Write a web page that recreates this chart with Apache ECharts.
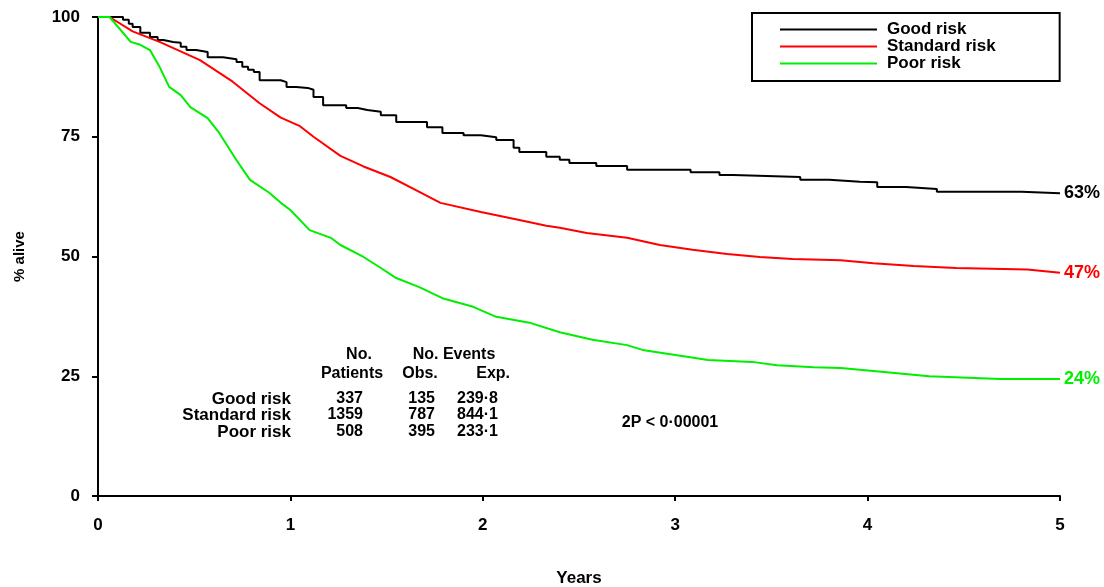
<!DOCTYPE html>
<html><head><meta charset="utf-8">
<script src="https://cdn.jsdelivr.net/npm/echarts@6/dist/echarts.min.js"></script>
<style>html,body{margin:0;padding:0;background:#fff}#c{width:1104px;height:587px}</style>
</head><body><div id="c"></div>
<script>
// ---------- data ----------
const seriesNames = ['Good risk', 'Standard risk', 'Poor risk'];
const seriesColors = ['#000000', '#ff0000', '#00ee00'];

const goodRisk = [
  [0,100],[0.10,100],[0.13,99.4],[0.16,98.6],[0.18,97.9],[0.22,96.7],[0.27,95.8],[0.31,95.2],[0.34,94.8],[0.39,94.6],
  [0.43,93.8],[0.46,93.1],[0.51,92.7],[0.57,91.6],[0.65,91.2],[0.72,90.6],[0.75,89.6],[0.78,89.0],[0.81,88.5],[0.84,86.8],
  [0.95,86.4],[0.98,85.4],[1.03,85.2],[1.09,84.8],[1.12,83.3],[1.17,81.6],[1.29,81.0],[1.35,80.6],[1.40,80.2],
  [1.47,79.5],[1.55,78.1],[1.71,77.0],[1.79,75.8],[1.90,75.3],[1.99,74.9],[2.07,74.3],[2.16,72.7],[2.19,71.8],
  [2.33,70.8],[2.40,70.2],[2.45,69.5],[2.59,68.9],[2.75,68.1],[3.08,67.6],[3.23,67.0],[3.30,66.6],
  [3.65,66.0],[3.80,65.6],[3.96,65.5],[4.05,64.5],[4.20,64.1],[4.36,63.5],[4.80,63.2],[5.00,63.2]
];
const standardRisk = [
  [0,100],[0.06,100],[0.18,97.0],[0.32,94.8],[0.53,91.0],[0.70,86.5],[0.84,82.0],[0.95,79.0],
  [1.05,77.2],[1.12,75.0],[1.26,71.0],[1.38,68.8],[1.52,66.6],[1.67,63.5],[1.78,61.2],[1.99,59.3],
  [2.19,57.6],[2.33,56.4],[2.40,56.0],[2.54,54.9],[2.75,53.9],[2.92,52.4],[3.09,51.4],[3.27,50.5],
  [3.44,49.9],[3.61,49.5],[3.86,49.2],[4.03,48.6],[4.24,48.0],[4.46,47.6],[4.83,47.3],[5.00,46.6]
];
const poorRisk = [
  [0,100],[0.06,100],[0.17,94.8],[0.22,94.2],[0.27,93.1],[0.32,89.6],[0.37,85.4],[0.43,83.7],
  [0.48,81.2],[0.57,78.9],[0.63,75.8],[0.72,70.1],[0.79,66.0],[0.89,63.3],[0.95,61.2],[1.00,59.7],
  [1.10,55.5],[1.21,53.9],[1.26,52.4],[1.38,49.9],[1.47,47.6],[1.55,45.5],[1.67,43.6],[1.79,41.3],
  [1.95,39.5],[2.07,37.4],[2.25,36.1],[2.40,34.2],[2.57,32.6],[2.75,31.5],[2.83,30.5],[3.01,29.4],
  [3.17,28.4],[3.40,28.0],[3.53,27.3],[3.72,26.9],[3.86,26.7],[4.03,26.1],[4.32,25.0],[4.69,24.4],
  [5.00,24.4]
];
const xTickValues = [0, 1, 2, 3, 4, 5];
const yTickValues = [0, 25, 50, 75, 100];
const xAxisTitle = 'Years';
const yAxisTitle = '% alive';

const tableHeader1 = ['No.', 'No. Events'];
const tableHeader2 = ['Patients', 'Obs.', 'Exp.'];
const tableGroups = ['Good risk', 'Standard risk', 'Poor risk'];
const tablePatients = ['337', '1359', '508'];
const tableObs = ['135', '787', '395'];
const tableExp = ['239·8', '844·1', '233·1'];
const pValueText = '2P < 0·00001';

// ---------- chart ----------
const FONT = '"Liberation Sans", Arial, Helvetica, sans-serif';
const chart = echarts.init(document.getElementById('c'), null, {renderer: 'canvas'});

const allData = [goodRisk, standardRisk, poorRisk];
const series = allData.map((d, i) => ({
  name: seriesNames[i],
  type: 'line',
  data: d,
  step: i === 0 ? 'end' : false,
  symbol: 'none',
  smooth: false,
  lineStyle: {color: seriesColors[i], width: 2},
  itemStyle: {color: seriesColors[i]},
  endLabel: {
    show: true,
    formatter: () => Math.round(d[d.length - 1][1]) + '%',
    color: seriesColors[i],
    fontFamily: FONT,
    fontSize: 18,
    fontWeight: 'bold',
    distance: 4
  },
  emphasis: {disabled: true},
  animation: false
}));

const txt = (x, y, text, align, size) => ({
  type: 'text', x: x, y: y, silent: true,
  style: {text: text, fill: '#000', font: 'bold ' + (size || 16) + 'px ' + FONT, align: align || 'center', verticalAlign: 'middle'}
});

const graphics = [];
graphics.push(txt(359, 355, tableHeader1[0]));
graphics.push(txt(454, 355, tableHeader1[1]));
graphics.push(txt(352, 374, tableHeader2[0]));
graphics.push(txt(420, 374, tableHeader2[1]));
graphics.push(txt(510, 374, tableHeader2[2], 'right'));
const rowY = [399, 415, 432];
tableGroups.forEach((g, i) => {
  graphics.push(txt(291, rowY[i], g, 'right', 17));
  graphics.push(txt(363, rowY[i], tablePatients[i], 'right'));
  graphics.push(txt(435, rowY[i], tableObs[i], 'right'));
  graphics.push(txt(457, rowY[i], tableExp[i], 'left'));
});
graphics.push(txt(670, 423, pValueText));

chart.setOption({
  animation: false,
  backgroundColor: '#fff',
  grid: {left: 98, right: 44, top: 17, bottom: 91, containLabel: false, outerBoundsMode: 'none'},
  legend: {
    orient: 'vertical',
    left: 752, top: 13,
    padding: [8, 64, 9, 28],
    itemGap: 0,
    itemWidth: 97,
    itemHeight: 14,
    borderColor: '#000',
    borderWidth: 2,
    backgroundColor: '#fff',
    selectedMode: false,
    data: seriesNames.map((n, i) => ({name: n, icon: 'path://M0,6 L100,6 L100,8 L0,8 Z', itemStyle: {color: seriesColors[i]}})),
    textStyle: {color: '#000', fontFamily: FONT, fontSize: 17, fontWeight: 'bold', padding: [0, 0, 0, 5]}
  },
  xAxis: {
    type: 'value', min: 0, max: 5, interval: 1,
    name: xAxisTitle, nameLocation: 'middle', nameGap: 74,
    nameTextStyle: {color: '#000', fontFamily: FONT, fontSize: 17, fontWeight: 'bold'},
    axisLine: {show: true, onZero: false, lineStyle: {color: '#000', width: 2}},
    axisTick: {show: true, length: 5, lineStyle: {color: '#000', width: 2}},
    axisLabel: {color: '#000', fontFamily: FONT, fontSize: 17, fontWeight: 'bold', margin: 21,
      formatter: v => xTickValues.includes(v) ? String(v) : ''},
    splitLine: {show: false}
  },
  yAxis: {
    type: 'value', min: 0, max: 100, interval: 25,
    name: yAxisTitle, nameLocation: 'middle', nameGap: 71, nameRotate: 90,
    nameTextStyle: {color: '#000', fontFamily: FONT, fontSize: 15, fontWeight: 'bold'},
    axisLine: {show: true, onZero: false, lineStyle: {color: '#000', width: 2}},
    axisTick: {show: true, length: 6, lineStyle: {color: '#000', width: 2}},
    axisLabel: {color: '#000', fontFamily: FONT, fontSize: 17, fontWeight: 'bold', margin: 18,
      formatter: v => yTickValues.includes(v) ? String(v) : ''},
    splitLine: {show: false}
  },
  graphic: graphics,
  series: series
});
</script>
</body></html>
